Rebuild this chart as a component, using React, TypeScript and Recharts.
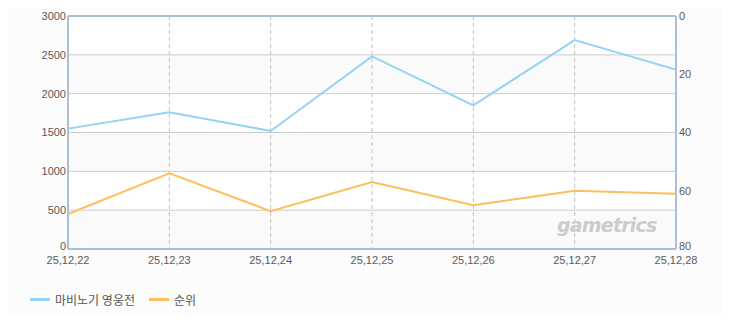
import React from 'react';
import {
  LineChart,
  Line,
  XAxis,
  YAxis,
  CartesianGrid,
  ReferenceLine,
} from 'recharts';

// dates as printed on the x axis
const dates = ['25,12,22', '25,12,23', '25,12,24', '25,12,25', '25,12,26', '25,12,27', '25,12,28'];
// left axis series
const heroesValues = [1550, 1760, 1520, 2480, 1850, 2690, 2310];
// right axis (rank, reversed)
const rankValues = [68, 54, 67, 57, 65, 60, 61];

const leftTicks = [0, 500, 1000, 1500, 2000, 2500, 3000];
const rightTicks = [0, 20, 40, 60, 80];

const seriesNames = ['마비노기 영웅전', '순위'];
const colors = ['#94d3f3', '#fdbf5e'];

const data = dates.map((d, i) => ({
  date: d,
  heroes: heroesValues[i],
  rank: rankValues[i],
}));

const FONT = "'Noto Sans CJK KR', 'DejaVu Sans', sans-serif";
const TICK_FONT = "'Liberation Sans', Arial, sans-serif";
const BORDER = '#abbfd4';
const tickStyle = { fill: '#5a5a5a', fontSize: 11, fontFamily: TICK_FONT };

// y tick that lifts the bottom-most label a little so it clears the dates
function YTick(props: any) {
  const { x, y, payload, textAnchor, bottomValue } = props;
  const lift = payload.value === bottomValue ? -3 : 0;
  return (
    <text
      x={x}
      y={y + lift}
      dy="0.355em"
      textAnchor={textAnchor}
      fill="#5a5a5a"
      fontSize={11}
      fontFamily={TICK_FONT}
    >
      {payload.value}
    </text>
  );
}

export default function App() {
  return (
    <div style={{ margin: -8, width: 730, height: 325, background: '#fcfcfc', position: 'relative' }}>
      <LineChart width={730} height={325} data={data} margin={{ top: 16, right: 14, bottom: 56, left: 8 }}>
        <CartesianGrid
          yAxisId="left"
          vertical={false}
          stroke="#cccccc"
          horizontalFill={['#ffffff', '#fafafa']}
          fillOpacity={1}
        />
        <CartesianGrid yAxisId="left" horizontal={false} stroke="#c4c4c4" strokeDasharray="4 3" />
        <XAxis
          dataKey="date"
          interval={0}
          tickLine={false}
          tickSize={0}
          axisLine={{ stroke: BORDER, strokeWidth: 2 }}
          tick={tickStyle}
          tickMargin={7}
          height={20}
        />
        <YAxis
          yAxisId="left"
          domain={[0, 3000]}
          ticks={leftTicks}
          width={60}
          tickLine={false}
          tickSize={0}
          axisLine={{ stroke: BORDER, strokeWidth: 2 }}
          tick={<YTick bottomValue={0} />}
          tickMargin={2}
        />
        <YAxis
          yAxisId="right"
          orientation="right"
          reversed
          domain={[0, 80]}
          ticks={rightTicks}
          width={40}
          tickLine={false}
          tickSize={0}
          axisLine={{ stroke: BORDER, strokeWidth: 2 }}
          tick={<YTick bottomValue={80} />}
          tickMargin={3}
        />
        <ReferenceLine yAxisId="left" y={3000} stroke={BORDER} strokeWidth={2} />
        <Line
          yAxisId="left"
          dataKey="heroes"
          stroke={colors[0]}
          strokeWidth={2}
          dot={false}
          isAnimationActive={false}
        />
        <Line
          yAxisId="right"
          dataKey="rank"
          stroke={colors[1]}
          strokeWidth={2}
          dot={false}
          isAnimationActive={false}
        />
      </LineChart>
      <div
        style={{
          position: 'absolute',
          left: 557,
          top: 214,
          fontFamily: "'DejaVu Sans', sans-serif",
          fontStyle: 'italic',
          fontWeight: 'bold',
          fontSize: 19,
          color: '#cccccc',
          letterSpacing: -0.8,
        }}
      >
        gametrics
      </div>
      <div
        style={{
          position: 'absolute',
          left: 30,
          top: 291,
          display: 'flex',
          alignItems: 'center',
          fontFamily: FONT,
          fontSize: 12,
          color: '#555',
        }}
      >
        {seriesNames.map((name, i) => (
          <div key={name} style={{ display: 'flex', alignItems: 'center', marginRight: 14 }}>
            <span style={{ display: 'inline-block', width: 20, height: 3, background: colors[i], marginRight: 5 }} />
            <span>{name}</span>
          </div>
        ))}
      </div>
    </div>
  );
}
